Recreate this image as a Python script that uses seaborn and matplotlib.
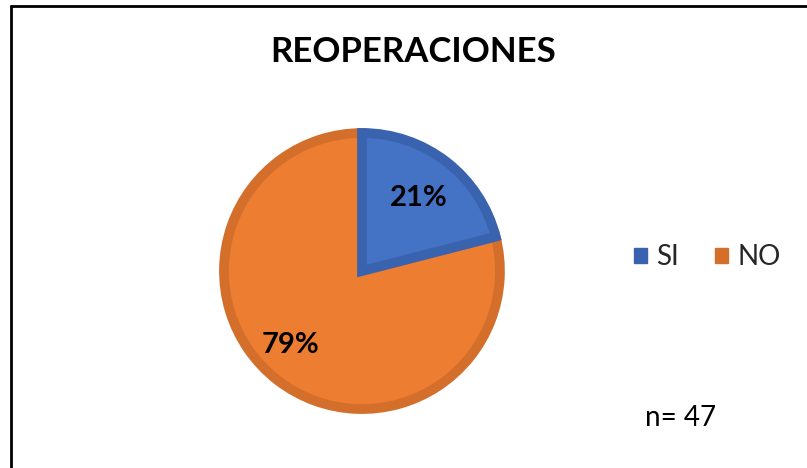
import matplotlib
matplotlib.use("Agg")
import matplotlib.pyplot as plt
import seaborn as sns

# data
categorias = ["SI", "NO"]
valores = [21, 79]
colores = ["#4472C4", "#ED7D31"]
bordes = ["#3A63AF", "#D46E2B"]
titulo = "REOPERACIONES"
nota = "n= 47"

sns.set_theme(style="white")
plt.rcParams["font.family"] = ["Lato", "DejaVu Sans"]

W, H = 807, 468
fig = plt.figure(figsize=(W / 100, H / 100), dpi=100)
fig.patch.set_facecolor("white")

# axes in pixel units, y up
ax = fig.add_axes([0, 0, 1, 1])
cx, cy = 362, H - 271
r = 138

wedges, texts, autotexts = ax.pie(
    valores,
    colors=colores,
    explode=[0.05, 0.065],
    startangle=90,
    counterclock=False,
    center=(cx, cy),
    radius=r,
    autopct="%1.0f%%",
    pctdistance=0.67,
    wedgeprops=dict(linewidth=7, joinstyle="miter"),
    textprops=dict(fontsize=21, fontweight="bold", color="black"),
)
for w, b in zip(wedges, bordes):
    w.set_edgecolor(b)
wedges[0].set_zorder(3)
# Excel puts the big slice label a bit further left
x79, y79 = autotexts[1].get_position()
autotexts[1].set_position((x79 - 15, y79 - 1))
for t in autotexts:
    t.set_zorder(5)

ax.set_xlim(0, W)
ax.set_ylim(0, H)
ax.set_aspect("equal")
ax.axis("off")

# title
fig.text(413 / W, 1 - 52 / H, titulo, ha="center", va="center",
         fontsize=25, fontweight="bold", color="black")

# legend
handles = [plt.Rectangle((0, 0), 1, 1, facecolor=b, edgecolor=b) for b in bordes]
fig.legend(handles, categorias, loc="center left", bbox_to_anchor=(634 / W, 1 - 257 / H),
           ncol=2, frameon=False, fontsize=20, handlelength=0.45, handleheight=0.45,
           handletextpad=0.35, columnspacing=1.3, borderaxespad=0, borderpad=0)

# n
fig.text(645 / W, 1 - 418 / H, nota, ha="left", va="center", fontsize=20, color="black")

# border (top and left only visible)
fig.add_artist(plt.Line2D([11 / W, 1], [1 - 6 / H, 1 - 6 / H], transform=fig.transFigure,
                          color="black", linewidth=2))
fig.add_artist(plt.Line2D([11 / W, 11 / W], [1 - 6 / H, 0], transform=fig.transFigure,
                          color="black", linewidth=2))

fig.savefig("out.png", dpi=100)
